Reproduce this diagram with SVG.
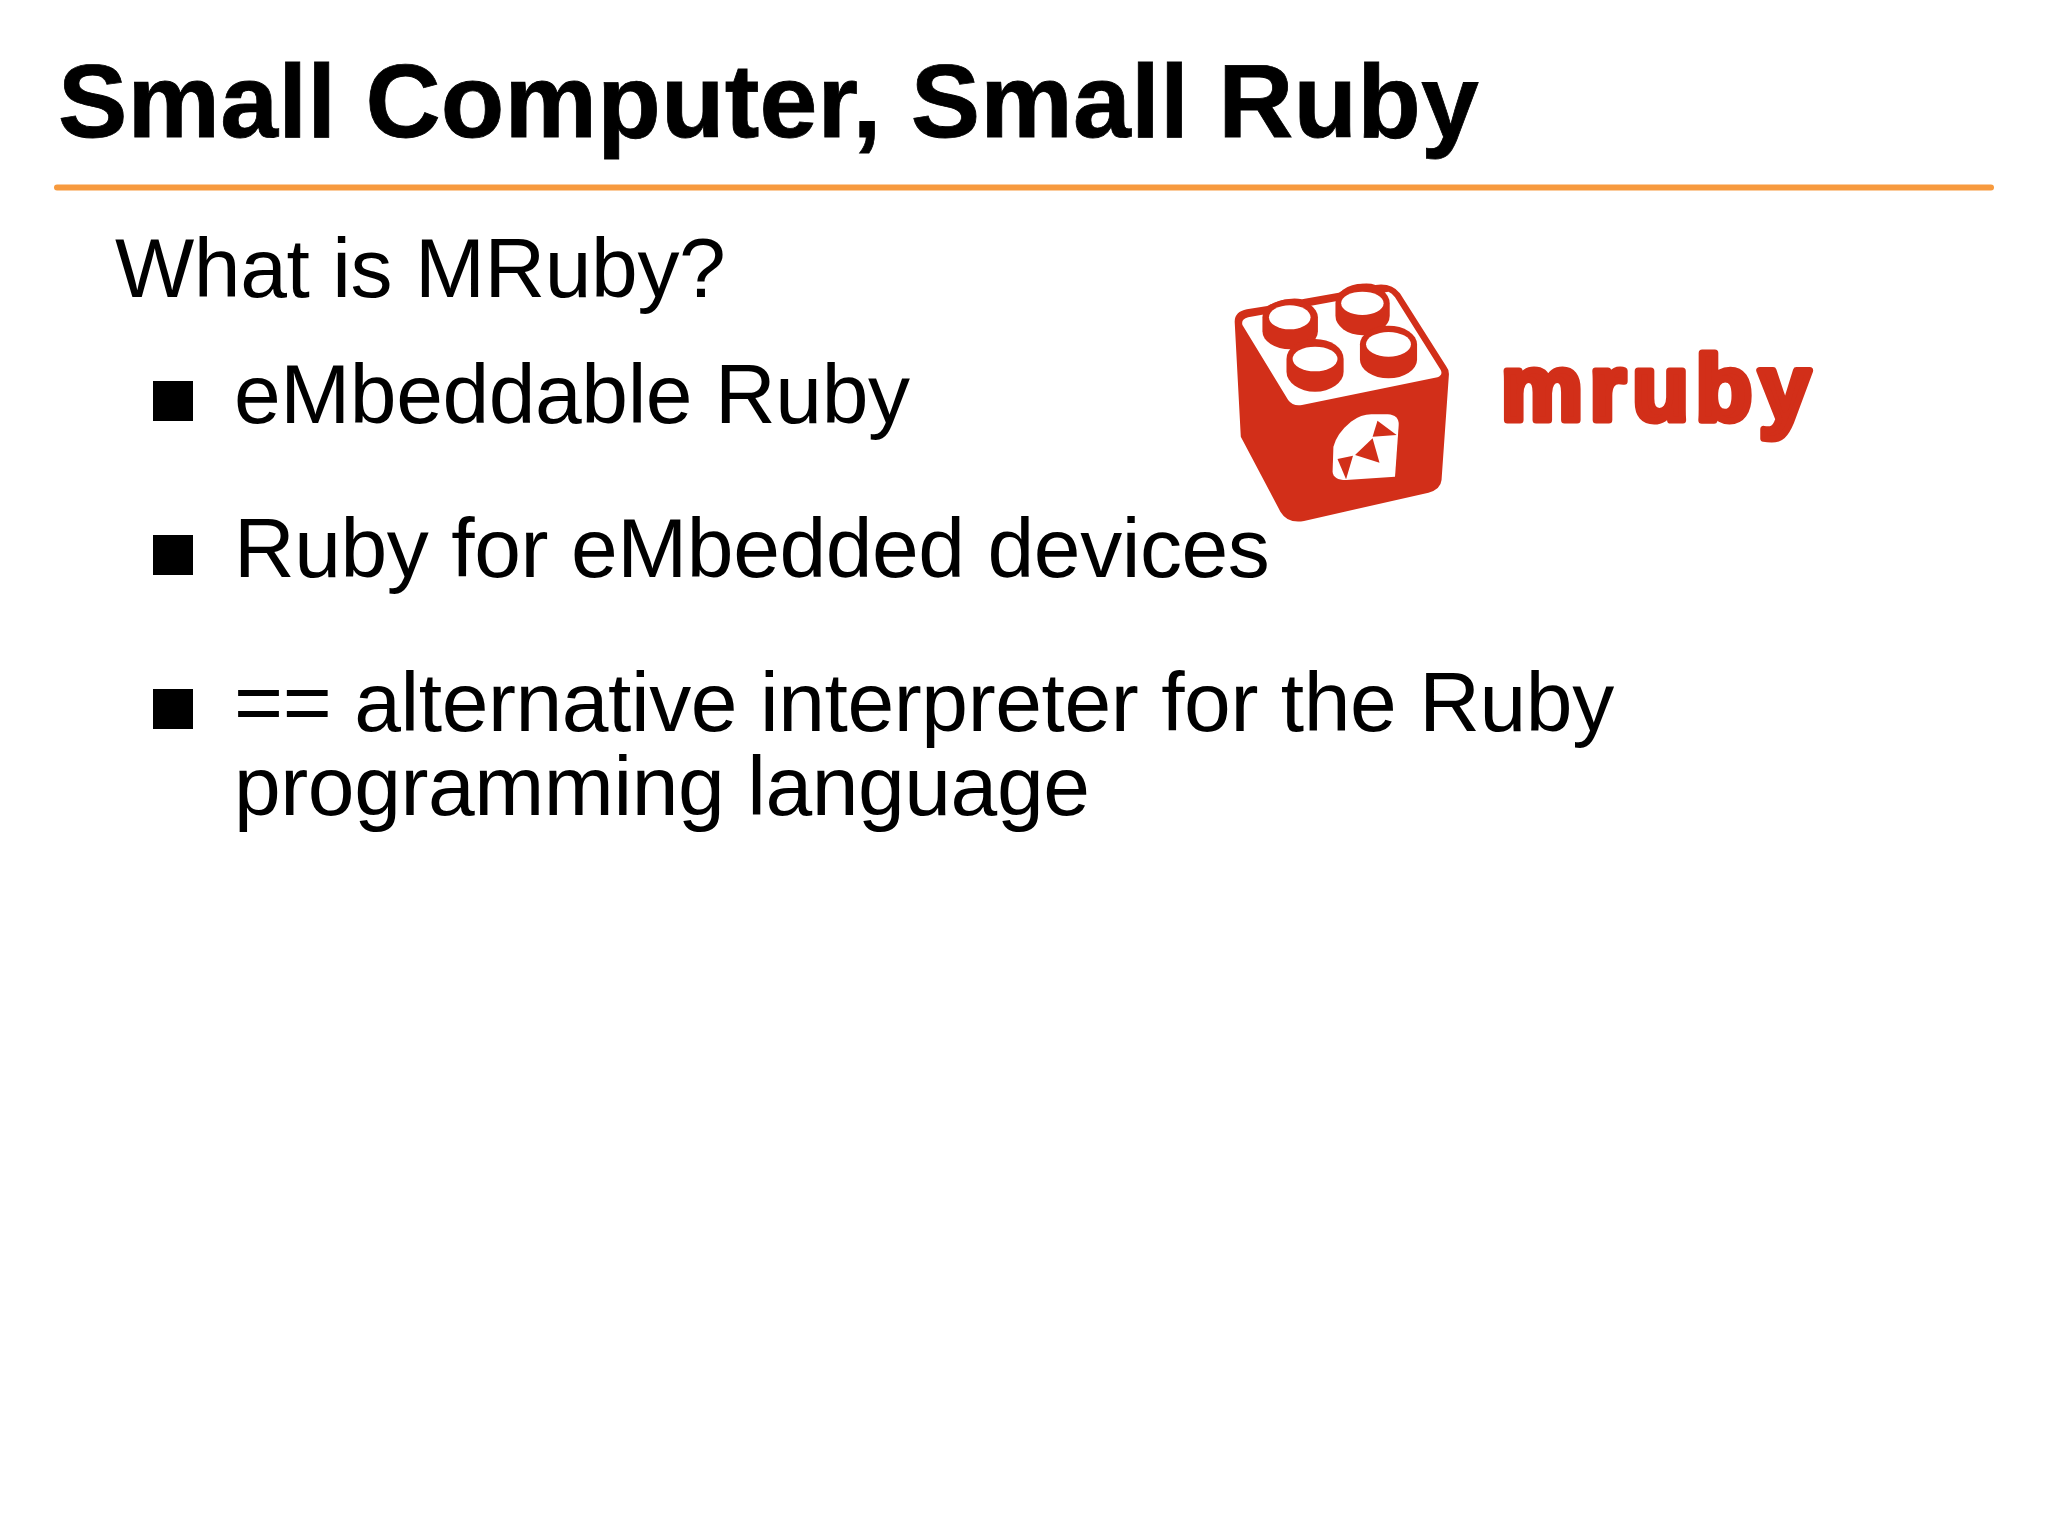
<svg xmlns="http://www.w3.org/2000/svg" width="2048" height="1536" viewBox="0 0 2048 1536">
<style>
text{font-family:"Liberation Sans",Arial,sans-serif;fill:#000}
.t{font-size:104px;font-weight:700;letter-spacing:.2px;stroke:#000;stroke-width:.8px}
.b{font-size:84px;letter-spacing:-.42px}
.red{fill:#d22f19}
.w{fill:#fff}
.wm{font-size:92px;font-weight:700;letter-spacing:7px;fill:#d22f19;stroke:#d22f19;stroke-width:7px;stroke-linejoin:round}
</style>
<rect width="2048" height="1536" fill="#fff"/>
<g id="title"><text class="t" x="58" y="137">Small Computer, Small Ruby</text></g>
<line id="rule" x1="57" y1="187.500" x2="1991" y2="187.500" stroke="#f79a3e" stroke-width="6" stroke-linecap="round"/>
<g id="body">
<text class="b" x="115" y="297">What is MRuby?</text>
<rect x="153" y="381" width="40" height="40"/>
<text class="b" x="234" y="423">eMbeddable Ruby</text>
<rect x="153" y="535" width="40" height="40"/>
<text class="b" x="234" y="577">Ruby for eMbedded devices</text>
<rect x="153" y="689" width="40" height="40"/>
<text class="b" x="234" y="731">== alternative interpreter for the Ruby</text>
<text class="b" x="234" y="815">programming language</text>
</g>
<g id="logo" transform="translate(1200 260) scale(0.408 0.3333)">
<path class="red" d="M85 185Q85 155 115 148L165 138Q215 108 250 118L340 98Q395 60 430 75Q470 68 490 100L603 318Q611 330 610 345L592 660Q590 688 560 698L255 783Q215 792 197 755L100 530Z"/>
<path class="w" d="M104 195Q100 178 118 172L440 100L462 95Q470 98 478 112L590 330Q596 345 582 352L250 435Q228 440 216 420Z"/>
<g class="red">
<path d="M153 172A68 54 0 0 1 289 172V214A68 54 0 0 1 153 214Z"/>
<path d="M332 130A66 58 0 0 1 465 130V167A66 58 0 0 1 332 167Z"/>
<path d="M212 297A70 60 0 0 1 352 297V335A70 60 0 0 1 212 335Z"/>
<path d="M392 253A70 56 0 0 1 532 253V299A70 56 0 0 1 392 299Z"/>
</g>
<g class="w">
<ellipse cx="220" cy="172" rx="51" ry="36"/>
<ellipse cx="398" cy="130" rx="52" ry="35"/>
<ellipse cx="282" cy="297" rx="55" ry="37"/>
<ellipse cx="462" cy="253" rx="55" ry="37"/>
<path d="M327 560Q335 520 370 485Q395 463 420 463H460Q488 465 487 495L478 650L358 660Q327 660 325 635Z"/>
</g>
<g class="red">
<path d="M435 482L482 525L423 530Z"/>
<path d="M423 535L440 608L380 585Z"/>
<path d="M337 597L375 587L358 658Z"/>
</g>
</g>
<g id="wordmark"><text class="wm" x="1501" y="420">mruby</text></g>
</svg>
